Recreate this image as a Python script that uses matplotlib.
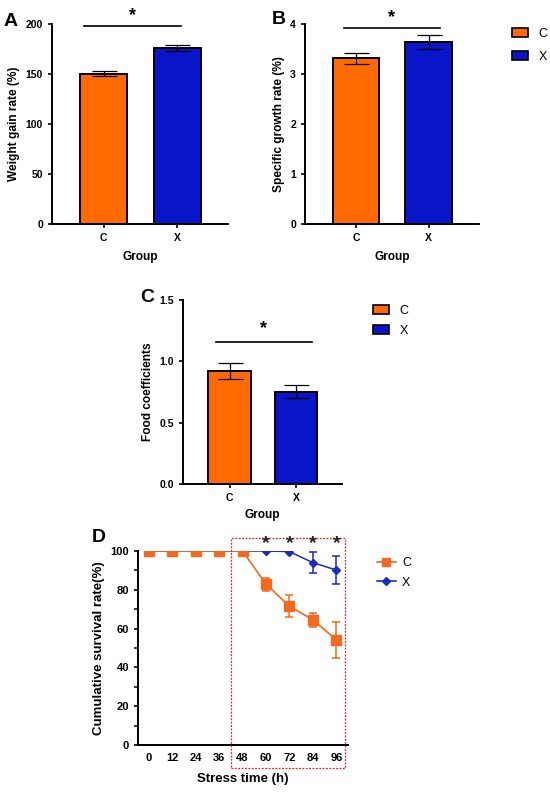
import matplotlib
matplotlib.use("Agg")
import numpy as np
import matplotlib.pyplot as plt
import matplotlib.patches as mpatches
from matplotlib.lines import Line2D

# ---------------------------------------------------------------------------
# Data
# ---------------------------------------------------------------------------
groups = ["C", "X"]
weight_gain = [150.5, 176.5]
weight_gain_err = [2.5, 3.0]
sgr = [3.32, 3.64]
sgr_err = [0.11, 0.14]
food_coef = [0.921, 0.753]
food_coef_err = [0.068, 0.053]

hours = [0, 12, 24, 36, 48, 60, 72, 84, 96]
surv_c = [100, 100, 100, 100, 100, 82.8, 71.6, 64.5, 54.3]
surv_c_err = [0, 0, 0, 0, 0, 3.4, 5.5, 3.6, 9.3]
surv_x = [100, 100, 100, 100, 100, 100, 99.7, 94.0, 90.2]
surv_x_err = [0, 0, 0, 0, 0, 0, 0.3, 5.4, 7.3]
sig_hours = [60, 72, 84, 96]

ORANGE = "#FF6A00"
BLUE = "#0A14C8"
L_ORANGE = "#F26A21"
L_BLUE = "#1A2BB8"

plt.rcParams.update({
    "font.family": ["Liberation Sans", "DejaVu Sans"],
    "font.size": 7.5,
    "font.weight": "bold",
    "axes.linewidth": 1.4,
    "axes.labelweight": "bold",
    "axes.labelsize": 8.6,
    "xtick.labelsize": 7.5,
    "ytick.labelsize": 7.5,
    "xtick.major.width": 1.2,
    "ytick.major.width": 1.2,
    "xtick.major.size": 3,
    "ytick.major.size": 3,
})

W, H = 550, 795
fig = plt.figure(figsize=(W / 100, H / 100), dpi=100)


def px_axes(l, t, r, b):
    return fig.add_axes([l / W, 1 - b / H, (r - l) / W, (b - t) / H])


def style(ax):
    ax.spines["top"].set_visible(False)
    ax.spines["right"].set_visible(False)


def bar_panel(ax, vals, errs, ylim, yticks, ylabel, sig_y, star_y, sig_x,
              xpad=4):
    x = np.arange(len(groups))
    ax.bar(x, vals, width=0.64, color=[ORANGE, BLUE], edgecolor="black",
           linewidth=1.4, zorder=2)
    ax.errorbar(x, vals, yerr=errs, fmt="none", ecolor="black",
                elinewidth=0.9, capsize=9, capthick=0.9, zorder=3)
    ax.set_xlim(-0.70, 1.69)
    ax.set_ylim(*ylim)
    ax.set_yticks(yticks)
    ax.set_xticks(x)
    ax.set_xticklabels(groups)
    ax.set_xlabel("Group", labelpad=xpad)
    ax.set_ylabel(ylabel, labelpad=4)
    style(ax)
    ax.plot(sig_x, [sig_y, sig_y], color="black", lw=1.2, clip_on=False)
    ax.text(np.mean(sig_x), star_y, "*", ha="center", va="center",
            fontsize=13, fontweight="bold", clip_on=False)


def group_legend(handles, l, t, spacing, hl=1.3, hh=0.7):
    fig.legend(handles, groups, loc="upper left",
               bbox_to_anchor=(l / W, 1 - t / H), frameon=False,
               borderpad=0, borderaxespad=0,
               prop={"weight": "normal", "size": 9}, handlelength=hl,
               handleheight=hh, handletextpad=0.8, labelspacing=spacing)


# --- A ---------------------------------------------------------------------
axA = px_axes(52, 24, 228, 224)
bar_panel(axA, weight_gain, weight_gain_err, (0, 200), [0, 50, 100, 150, 200],
          "Weight gain rate (%)", 198.5, 208, [-0.27, 1.05], xpad=6)
fig.text(4 / W, 1 - 21 / H, "A", fontsize=14, fontweight="bold", va="center")

# --- B ---------------------------------------------------------------------
axB = px_axes(305, 24, 479, 224)
bar_panel(axB, sgr, sgr_err, (0, 4), [0, 1, 2, 3, 4],
          "Specific growth rate (%)", 3.92, 4.13, [-0.17, 1.16], xpad=6)
fig.text(272 / W, 1 - 19 / H, "B", fontsize=14, fontweight="bold", va="center")

bar_handles = [mpatches.Patch(facecolor=ORANGE, edgecolor="black", lw=1.2),
               mpatches.Patch(facecolor=BLUE, edgecolor="black", lw=1.2)]
group_legend(bar_handles, 512, 28, 0.85)

# --- C ---------------------------------------------------------------------
axC = px_axes(183, 300, 342, 484)
bar_panel(axC, food_coef, food_coef_err, (0, 1.5), [0.0, 0.5, 1.0, 1.5],
          "Food coefficients", 1.16, 1.27, [-0.21, 1.24])
axC.set_yticklabels(["0.0", "0.5", "1.0", "1.5"])
fig.text(140 / W, 1 - 298 / H, "C", fontsize=14, fontweight="bold", va="center")
group_legend(bar_handles, 373, 305, 0.6)

# --- D ---------------------------------------------------------------------
axD = px_axes(138, 551, 348, 745)
axD.errorbar(hours, surv_x, yerr=surv_x_err, color=L_BLUE, marker="D",
             markersize=4.5, lw=1.1, elinewidth=1.1, capsize=3, capthick=1.1,
             zorder=2, label="X")
axD.errorbar(hours, surv_c, yerr=surv_c_err, color=L_ORANGE, marker="s",
             markersize=6.5, lw=1.2, elinewidth=1.1, capsize=3, capthick=1.1,
             zorder=3, label="C")
axD.set_xlim(-5.6, 102)
axD.set_ylim(0, 100)
axD.set_xticks(hours)
axD.set_yticks([0, 20, 40, 60, 80, 100])
axD.set_yticks(np.arange(10, 100, 20), minor=True)
axD.tick_params(axis="y", which="minor", length=3, width=1.1)
axD.tick_params(axis="x", length=0, pad=6)
axD.tick_params(axis="both", labelsize=8)
axD.set_xlabel("Stress time (h)", fontsize=9.5, labelpad=7)
axD.set_ylabel("Cumulative survival rate(%)", fontsize=9.5, labelpad=4)
style(axD)
for h in sig_hours:
    axD.text(h, 104.0, "*", ha="center", va="center", fontsize=14,
             fontweight="bold", color="#222222", clip_on=False, zorder=6)
rect = mpatches.Rectangle((42, -11.8), 58.5, 118.7, fill=False,
                          edgecolor="#E0202A", lw=0.9, ls=(0, (1.5, 1.2)),
                          clip_on=False, zorder=5)
axD.add_patch(rect)
fig.text(92 / W, 1 - 538 / H, "D", fontsize=14, fontweight="bold", va="center")

line_handles = [Line2D([], [], color=L_ORANGE, marker="s", markersize=6, lw=1.2),
                Line2D([], [], color=L_BLUE, marker="D", markersize=4, lw=1.2)]
fig.legend(line_handles, groups, loc="upper left",
           bbox_to_anchor=(377 / W, 1 - 557 / H), frameon=False,
           borderpad=0, borderaxespad=0,
           prop={"weight": "normal", "size": 9}, handlelength=1.5,
           handletextpad=0.5, labelspacing=0.6)

fig.savefig("out.png", dpi=100, facecolor="white")
